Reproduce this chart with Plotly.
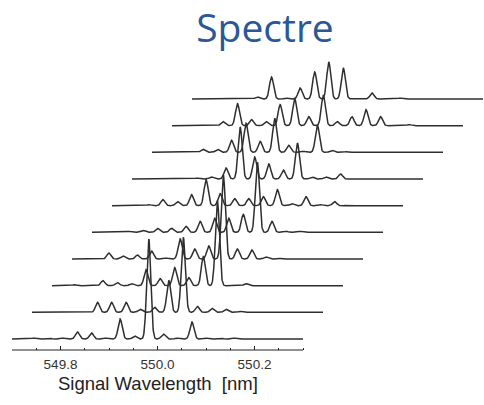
import numpy as np
import plotly.graph_objects as go

# Comb line positions (nm) shared by all spectra
comb_nm = [549.746, 549.776, 549.805, 549.835, 549.864, 549.894, 549.923, 549.953,
           549.982, 550.012, 550.041, 550.071, 550.100, 550.130, 550.159, 550.189, 550.218]

# Line intensities (a.u.) for each spectrum, bottom to top, one value per comb line
spec_01 = [1, 1, 1, 7, 6, 1, 20, 3, 100, 5, 1, 17, 1, 1, 1, 0, 0]
spec_02 = [0, 0, 0.5, 10, 10, 10, 3, 5, 32, 75, 6, 4, 3, 1, 0, 0, 0]
spec_03 = [1, 0, 5, 3, 2, 16, 7, 18, 8, 29, 85, 0.5, 2, 0, 0, 0, 0]
spec_04 = [0, 6, 3, 4, 8, 1, 20, 10, 13, 84, 10, 9, 2, 0.5, 0.5, 0, 0]
spec_05 = [0, 1, 2, 4, 4, 6, 11, 14, 14, 18, 70, 11, 1, 1, 0, 0, 0]
spec_06 = [0, 1, 6, 4, 11, 26, 12, 7, 7, 9, 16, 2, 9, 1, 4, 0.5, 0]
spec_07 = [0, 0.5, 0.5, 1, 2, 11, 52, 22, 15, 9, 36, 2, 2, 5, 0.5, 0, 0]
spec_08 = [0.5, 0.5, 3, 3, 12, 29, 11, 34, 7, 1, 27, 2, 0.5, 0, 0, 0, 0]
spec_09 = [0, 0, 4, 22, 6, 4, 21, 27, 9, 30, 4, 9, 16, 9, 0.5, 1, 0]
spec_10 = [0, 0, 0, 2, 22, 1, 11, 27, 37, 31, 0.5, 6, 0, 1, 0, 0, 0]

spectra = [spec_01, spec_02, spec_03, spec_04, spec_05,
           spec_06, spec_07, spec_08, spec_09, spec_10]

# Wavelength window of each spectrum and tick marks of the bottom axis
wl_start, wl_stop = 549.7, 550.3
major_ticks = [549.8, 550.0, 550.2]
major_labels = ["549.8", "550.0", "550.2"]
minor_ticks = [549.7, 549.75, 549.85, 549.9, 549.95, 550.05, 550.1, 550.15, 550.25, 550.3]

# Waterfall offsets between successive spectra
shift_nm = 20 / 485
shift_y = 26.67
base_y = 11
line_sigma = 0.0042

wl = np.arange(wl_start, wl_stop + 1e-9, 0.0005)

fig = go.Figure()
for k, amps in enumerate(spectra):
    inten = np.zeros_like(wl)
    for c, a in zip(comb_nm, amps):
        inten += a * np.exp(-0.5 * ((wl - c) / line_sigma) ** 2)
    fig.add_trace(go.Scatter(
        x=wl + k * shift_nm,
        y=inten + base_y + k * shift_y,
        mode="lines",
        line=dict(color="#2e2e2e", width=1.5),
        hoverinfo="skip",
        showlegend=False,
    ))

# Axis line only under the front spectrum
fig.add_shape(type="line", xref="x", yref="paper",
              x0=wl_start, x1=wl_stop, y0=0, y1=0,
              line=dict(color="#222222", width=1))

fig.add_annotation(
    text="Signal Wavelength \u00a0[nm]",
    xref="x", yref="paper", x=550.0, y=-0.115,
    xanchor="center", yanchor="middle", showarrow=False,
    font=dict(family="Liberation Sans, Arial", size=18.5, color="#222222"),
)

fig.update_layout(
    width=484, height=405,
    margin=dict(l=12, r=0, t=55, b=55),
    paper_bgcolor="white", plot_bgcolor="white",
    title=dict(
        text="Spectre",
        x=0.536, xref="paper", xanchor="center",
        y=1 - 28 / 405, yref="container", yanchor="middle",
        font=dict(family="Open Sans", size=39, color="#2b5797"),
    ),
    xaxis=dict(
        range=[wl_start, wl_start + 472 / 485],
        showgrid=False, zeroline=False, showline=False,
        tickmode="array", tickvals=major_ticks, ticktext=major_labels,
        ticks="inside", ticklen=4, tickwidth=1, tickcolor="#222222",
        ticklabelstandoff=4,
        tickfont=dict(family="Liberation Sans, Arial", size=13.5, color="#333333"),
        minor=dict(tickmode="array", tickvals=minor_ticks, ticks="inside",
                   ticklen=2, tickwidth=1, tickcolor="#222222", showgrid=False),
    ),
    yaxis=dict(range=[0, 295], visible=False),
)

fig.write_html("out.html")
